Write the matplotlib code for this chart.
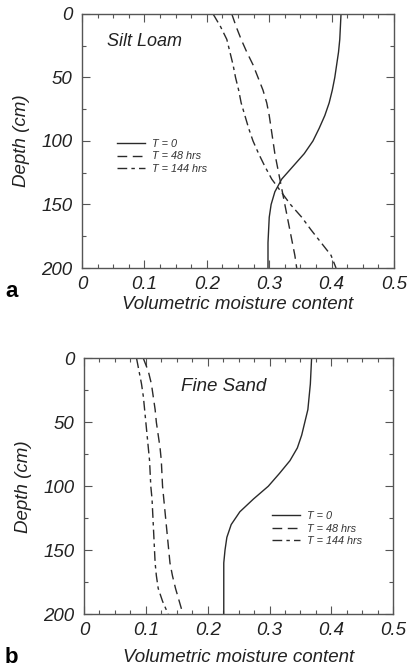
import numpy as np
from matplotlib import pyplot as plt
from matplotlib.ticker import MultipleLocator

plt.rcParams['font.family'] = ['Liberation Sans', 'DejaVu Sans']

# profundidades (cm)
depth = [0, 10, 20, 30, 40, 50, 60, 70, 80, 90, 100,
         110, 120, 130, 140, 150, 160, 170, 180, 190, 200]

# Silt Loam
silt_t0 = [0.415, 0.414, 0.413, 0.411, 0.408, 0.405, 0.401, 0.396, 0.389, 0.380, 0.370,
           0.356, 0.338, 0.320, 0.309, 0.303, 0.300, 0.299, 0.298, 0.298, 0.298]
silt_t48 = [0.240, 0.247, 0.255, 0.264, 0.274, 0.282, 0.290, 0.296, 0.300, 0.303, 0.306,
            0.309, 0.313, 0.317, 0.321, 0.325, 0.329, 0.333, 0.337, 0.341, 0.344]
silt_t144 = [0.210, 0.222, 0.232, 0.237, 0.242, 0.246, 0.251, 0.255, 0.261, 0.267, 0.274,
             0.283, 0.293, 0.304, 0.319, 0.334, 0.352, 0.367, 0.383, 0.399, 0.407]

# Fine Sand
sand_t0 = [0.368, 0.367, 0.366, 0.364, 0.362, 0.357, 0.352, 0.345, 0.333, 0.316, 0.298,
           0.274, 0.252, 0.238, 0.231, 0.228, 0.226, 0.226, 0.226, 0.226, 0.226]
sand_t48 = [0.096, 0.104, 0.109, 0.112, 0.115, 0.117, 0.120, 0.123, 0.125, 0.126, 0.127,
            0.129, 0.131, 0.133, 0.135, 0.137, 0.139, 0.143, 0.148, 0.154, 0.160]
sand_t144 = [0.085, 0.089, 0.093, 0.096, 0.098, 0.100, 0.102, 0.104, 0.106, 0.107, 0.108,
             0.110, 0.111, 0.112, 0.113, 0.114, 0.115, 0.117, 0.120, 0.127, 0.136]

labels = ['T = 0', 'T = 48 hrs', 'T = 144 hrs']
xticks = [0, 0.1, 0.2, 0.3, 0.4, 0.5]
xticklabels = ['0', '0.1', '0.2', '0.3', '0.4', '0.5']
yticks = [0, 50, 100, 150, 200]

col = '#2a2a2a'

fig = plt.figure(figsize=(4.09, 6.69), dpi=100)
axa = fig.add_axes([0.2005, 0.5994, 0.763, 0.3797])
axb = fig.add_axes([0.2054, 0.0822, 0.756, 0.382])


def dibujar(ax, t0, t48, t144, titulo, tpos, tsize, legpos, xlpad):
    ax.plot(t0, depth, color=col, lw=1.0, linestyle='-', label=labels[0])
    ax.plot(t48, depth, color=col, lw=1.0, linestyle=(0, (7, 4)), label=labels[1])
    ax.plot(t144, depth, color=col, lw=1.0, linestyle=(0, (7, 3, 2.5, 3)), label=labels[2])
    ax.set_xlim(0, 0.5)
    ax.set_ylim(200, 0)
    ax.set_xticks(xticks)
    ax.set_xticklabels(xticklabels)
    ax.set_yticks(yticks)
    ax.xaxis.set_minor_locator(MultipleLocator(0.025))
    ax.yaxis.set_minor_locator(MultipleLocator(25))
    ax.tick_params(which='both', direction='in', top=True, right=True,
                   color='#555555', width=0.8)
    ax.tick_params(which='major', length=6, labelsize=13.5)
    ax.tick_params(axis='x', which='major', pad=6)
    ax.tick_params(axis='y', which='major', pad=7)
    ax.tick_params(which='minor', length=3)
    for lab in ax.get_xticklabels() + ax.get_yticklabels():
        lab.set_fontstyle('italic')
        lab.set_color('#222222')
    for s in ax.spines.values():
        s.set_color('#555555')
        s.set_linewidth(1.0)
    ax.set_xlabel('Volumetric moisture content', fontsize=13.5, fontstyle='italic',
                  labelpad=xlpad, color='#222222')
    ax.set_ylabel('Depth (cm)', fontsize=13.5, fontstyle='italic', labelpad=8,
                  color='#222222')
    ax.text(tpos[0], tpos[1], titulo, transform=ax.transAxes, fontsize=tsize,
            fontstyle='italic', ha='left', va='center', color='#222222')
    leg = ax.legend(loc='upper left', bbox_to_anchor=legpos, frameon=False,
                    fontsize=7.8, handlelength=2.6, handletextpad=0.6,
                    labelspacing=0.25, borderpad=0)
    for t in leg.get_texts():
        t.set_fontstyle('italic')
        t.set_color('#333333')


dibujar(axa, silt_t0, silt_t48, silt_t144, 'Silt Loam', (0.08, 0.89), 13,
        (0.095, 0.53), 2)
dibujar(axb, sand_t0, sand_t48, sand_t144, 'Fine Sand', (0.315, 0.89), 13.5,
        (0.59, 0.425), 7)

fig.text(0.012, 0.549, 'a', fontsize=16, fontweight='bold', ha='left', va='bottom')
fig.text(0.012, 0.002, 'b', fontsize=16, fontweight='bold', ha='left', va='bottom')

plt.savefig('out.png', dpi=100)
